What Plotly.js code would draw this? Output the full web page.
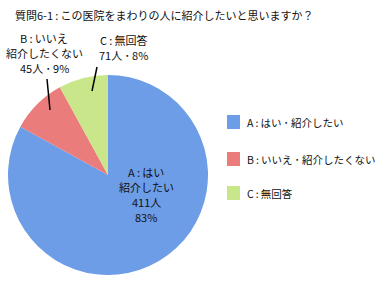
<!DOCTYPE html>
<html><head><meta charset="utf-8">
<script src="https://cdn.plot.ly/plotly-3.0.1.min.js"></script>
<style>html,body{margin:0;padding:0;background:#fff}#chart{width:380px;height:285px}</style>
</head><body><div id="chart"></div>
<script>
// data
const categories = ['A\u2009:\u2009はい\u2009･\u2009紹介したい', 'B\u2009:\u2009いいえ\u2009･\u2009紹介したくない', 'C\u2009:\u2009無回答'];
const labelLines = [['A\u2009:\u2009はい', '紹介したい'], ['B\u2009:\u2009いいえ', '紹介したくない'], ['C\u2009:\u2009無回答']];
const counts = [411, 45, 71];
const percents = [83, 9, 8];
const colors = ['#6d9de6', '#eb7c7c', '#c9e68a'];
const titleText = '質問6-1\u2009:\u2009この医院をまわりの人に紹介したいと思いますか？';

const W = 380, H = 285;
const px = x => x / W, py = y => 1 - y / H;
const FONT = '"Noto Sans CJK JP", "Noto Sans", sans-serif';

const trace = {
  type: 'pie', labels: categories, values: percents, sort: false,
  direction: 'clockwise', rotation: 0, textinfo: 'none', hoverinfo: 'label+percent',
  marker: {colors: colors, line: {width: 0}},
  domain: {x: [px(8), px(208)], y: [py(275), py(75)]},
  showlegend: false
};

const annotations = [];
function addText(text, x, y, size, anchor) {
  annotations.push({xref: 'paper', yref: 'paper', showarrow: false, text: text, x: px(x), y: py(y),
    xanchor: anchor || 'center', yanchor: 'middle', font: {family: FONT, size: size, color: '#111'}});
}
addText(titleText, 13, 15, 11, 'left');
// slice labels, one line each
const aLines = labelLines[0].concat([counts[0] + '人', percents[0] + '%']);
aLines.forEach((t, k) => addText(t, 146, 172 + 15 * k, 11));
const bLines = labelLines[1].concat([counts[1] + '人\u2009･\u2009' + percents[1] + '%']);
bLines.forEach((t, k) => addText(t, 44, 38 + 15 * k, 11));
const cLines = labelLines[2].concat([counts[2] + '人\u2009･\u2009' + percents[2] + '%']);
cLines.forEach((t, k) => addText(t, 123, 40 + 15 * k, 11));

const shapes = [
  {type: 'line', x0: px(47), y0: py(79), x1: px(50), y1: py(110)},
  {type: 'line', x0: px(97), y0: py(67), x1: px(92), y1: py(91)}
].map(s => Object.assign(s, {xref: 'paper', yref: 'paper', line: {color: '#000', width: 1.5}}));

// manual legend
const legY = [122, 159, 193];
categories.forEach((c, i) => {
  shapes.push({type: 'rect', xref: 'paper', yref: 'paper', x0: px(227), x1: px(240), y0: py(legY[i] - 7), y1: py(legY[i] + 7),
    fillcolor: colors[i], line: {width: 0}});
  addText(c, 245, legY[i], 10.5, 'left');
});

const layout = {
  width: W, height: H, margin: {l: 0, r: 0, t: 0, b: 0},
  paper_bgcolor: '#fff', plot_bgcolor: '#fff', showlegend: false,
  font: {family: FONT}, annotations: annotations, shapes: shapes
};
Plotly.newPlot('chart', [trace], layout, {displayModeBar: false, staticPlot: true});
</script></body></html>
